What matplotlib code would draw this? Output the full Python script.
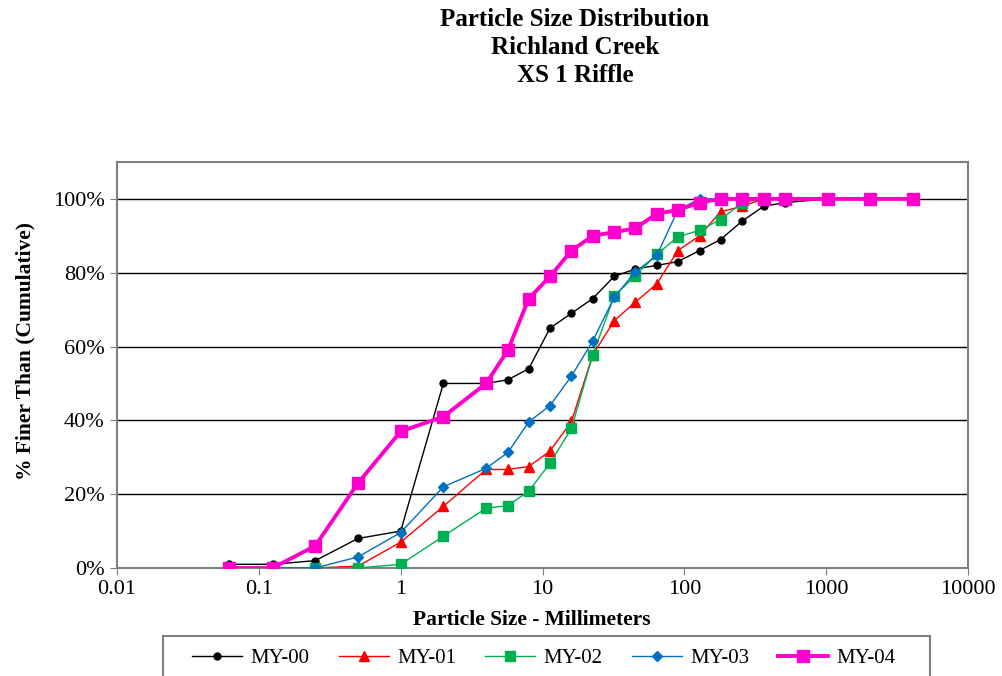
import numpy as np
import matplotlib
matplotlib.use('Agg')
from matplotlib import pyplot as plt
from matplotlib.ticker import FuncFormatter, NullLocator
from matplotlib.patches import Rectangle

plt.rcParams['font.family'] = ['Liberation Serif', 'DejaVu Serif']

# sieve sizes (mm) and cumulative percent finer for each survey year
sizes = [0.062, 0.125, 0.25, 0.5, 1, 2, 4, 5.7, 8, 11.3, 16, 22.6, 32, 45, 64,
         90, 128, 180, 256, 362, 512, 1024, 2048, 4096]

my00 = [1, 1, 2, 8, 10, 50, 50, 51, 54, 65, 69, 73, 79, 81, 82, 83, 86, 89, 94, 98, 99, 100]
my01 = [0, 0, 0, 0.5, 7, 16.7, 26.7, 26.7, 27.5, 31.7, 39.7, 57.7, 67, 72, 77, 86, 90, 96.5, 98, 100, 100, 100]
my02 = [0, 0, 0, 0, 1, 8.6, 16.2, 16.9, 20.8, 28.4, 37.8, 57.7, 73.6, 79.2, 85, 89.7, 91.5, 94.4, 99, 100, 100, 100]
my03 = [0, 0, 0, 3, 9.6, 22, 27, 31.3, 39.6, 44, 52, 61.5, 73.3, 80.2, 84.7, 97, 100, 100, 100, 100, 100, 100]
my04 = [0, 0, 6, 23, 37, 41, 50, 59, 73, 79, 86, 90, 91, 92, 96, 97, 99, 100, 100, 100, 100, 100, 100, 100]

series = [
    ("MY-00", my00, dict(color="black", marker="o", markersize=5, lw=1)),
    ("MY-01", my01, dict(color="#FF0000", marker="^", markersize=7, lw=1)),
    ("MY-02", my02, dict(color="#00B050", marker="s", markersize=6.5, lw=1)),
    ("MY-03", my03, dict(color="#0070C0", marker="D", markersize=5, lw=1)),
    ("MY-04", my04, dict(color="#FF00CC", marker="s", markersize=8, lw=2.8)),
]

fig = plt.figure(figsize=(10.02, 6.76), dpi=100)
ax = fig.add_axes([117/1002, 1-568/676, (968-117)/1002, (568-162)/676])

for name, vals, style in series:
    ax.plot(sizes[:len(vals)], vals, label=name, zorder=3, **style)

ax.set_xscale('log')
ax.set_xlim(0.01, 10000)
ax.set_ylim(0, 110)
ax.set_yticks([0, 20, 40, 60, 80, 100])
ax.yaxis.set_major_formatter(FuncFormatter(lambda v, p: f"{int(v)}%"))
ax.set_xticks([0.01, 0.1, 1, 10, 100, 1000, 10000])
ax.set_xticklabels(["0.01", "0.1", "1", "10", "100", "1000", "10000"])
ax.xaxis.set_minor_locator(NullLocator())
ax.tick_params(labelsize=16, direction='out', length=5, color='#808080', pad=4)
ax.grid(axis='y', color='black', lw=1, zorder=0)
for s in ax.spines.values():
    s.set_color('#808080')
    s.set_linewidth(1.5)

fig.text(532/1002, 1-620/676, "Particle Size - Millimeters", ha='center', va='center',
         fontsize=15.5, fontweight='bold')
fig.text(25/1002, 1-351/676, "% Finer Than (Cumulative)", ha='center', va='center',
         rotation=90, fontsize=15.5, fontweight='bold')

fig.text(575/1002, 1-8/676, "Particle Size Distribution\nRichland Creek\nXS 1 Riffle",
         ha='center', va='top', fontsize=18, fontweight='bold', linespacing=1.27)

# legend box runs off the bottom edge, as in the original
fig.patches.append(Rectangle((163/1002, -0.05), (930-163)/1002, 0.05 + (676-636)/676,
                             transform=fig.transFigure, fill=False,
                             edgecolor='#808080', lw=1.5))
leg = fig.legend(loc='center', ncol=5, bbox_to_anchor=(544/1002, 1-658/676),
                 fontsize=15, frameon=False, handlelength=2.4, handletextpad=0.4,
                 columnspacing=1.4)

fig.savefig("out.png", dpi=100)
